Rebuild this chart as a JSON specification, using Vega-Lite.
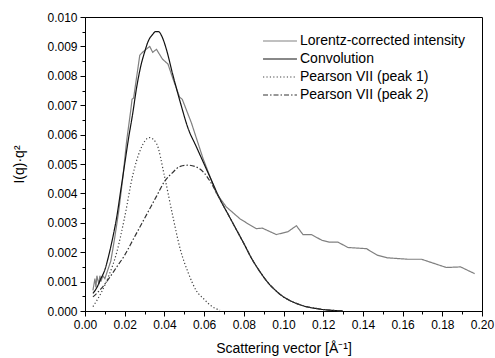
{
  "$schema": "https://vega.github.io/schema/vega-lite/v6.json",
  "width": 397,
  "height": 294,
  "autosize": {"type": "none"},
  "padding": {"left": 85, "top": 17, "right": 13, "bottom": 47},
  "background": "white",
  "config": {
    "view": {"stroke": "black", "strokeWidth": 1},
    "font": "Liberation Sans",
    "axis": {
      "grid": false,
      "domainColor": "black",
      "tickColor": "black",
      "labelColor": "black",
      "titleColor": "black",
      "labelFont": "Liberation Sans",
      "titleFont": "Liberation Sans",
      "labelFontSize": 12,
      "titleFontSize": 14,
      "titleFontWeight": "normal"
    },
    "legend": {
      "orient": "none", "legendX": 188, "legendY": 17, "title": null,
      "symbolType": "M-4,0H4", "symbolSize": 72, "symbolStrokeWidth": 1.2,
      "labelFontSize": 14, "labelFont": "Liberation Sans", "labelColor": "black",
      "rowPadding": 4, "labelOffset": 13, "padding": 0, "labelLimit": 400
    }
  },
  "datasets": {
    "d": [
      {"q": 0.004, "v": 0.0007, "s": "Lorentz-corrected intensity"},
      {"q": 0.005, "v": 0.0011, "s": "Lorentz-corrected intensity"},
      {"q": 0.0055, "v": 0.0008, "s": "Lorentz-corrected intensity"},
      {"q": 0.006, "v": 0.0012, "s": "Lorentz-corrected intensity"},
      {"q": 0.007, "v": 0.0009, "s": "Lorentz-corrected intensity"},
      {"q": 0.0075, "v": 0.0012, "s": "Lorentz-corrected intensity"},
      {"q": 0.008, "v": 0.0010, "s": "Lorentz-corrected intensity"},
      {"q": 0.009, "v": 0.0012, "s": "Lorentz-corrected intensity"},
      {"q": 0.010, "v": 0.0011, "s": "Lorentz-corrected intensity"},
      {"q": 0.011, "v": 0.0013, "s": "Lorentz-corrected intensity"},
      {"q": 0.013, "v": 0.0017, "s": "Lorentz-corrected intensity"},
      {"q": 0.015, "v": 0.0025, "s": "Lorentz-corrected intensity"},
      {"q": 0.017, "v": 0.0034, "s": "Lorentz-corrected intensity"},
      {"q": 0.019, "v": 0.0045, "s": "Lorentz-corrected intensity"},
      {"q": 0.021, "v": 0.0058, "s": "Lorentz-corrected intensity"},
      {"q": 0.023, "v": 0.0068, "s": "Lorentz-corrected intensity"},
      {"q": 0.0237, "v": 0.0072, "s": "Lorentz-corrected intensity"},
      {"q": 0.0245, "v": 0.00725, "s": "Lorentz-corrected intensity"},
      {"q": 0.0276, "v": 0.0087, "s": "Lorentz-corrected intensity"},
      {"q": 0.029, "v": 0.0088, "s": "Lorentz-corrected intensity"},
      {"q": 0.0326, "v": 0.0090, "s": "Lorentz-corrected intensity"},
      {"q": 0.0341, "v": 0.0088, "s": "Lorentz-corrected intensity"},
      {"q": 0.036, "v": 0.0089, "s": "Lorentz-corrected intensity"},
      {"q": 0.039, "v": 0.00857, "s": "Lorentz-corrected intensity"},
      {"q": 0.0418, "v": 0.0084, "s": "Lorentz-corrected intensity"},
      {"q": 0.0443, "v": 0.0079, "s": "Lorentz-corrected intensity"},
      {"q": 0.0477, "v": 0.00727, "s": "Lorentz-corrected intensity"},
      {"q": 0.049, "v": 0.0072, "s": "Lorentz-corrected intensity"},
      {"q": 0.0536, "v": 0.0064, "s": "Lorentz-corrected intensity"},
      {"q": 0.0594, "v": 0.0052, "s": "Lorentz-corrected intensity"},
      {"q": 0.0662, "v": 0.0040, "s": "Lorentz-corrected intensity"},
      {"q": 0.0712, "v": 0.00354, "s": "Lorentz-corrected intensity"},
      {"q": 0.078, "v": 0.00314, "s": "Lorentz-corrected intensity"},
      {"q": 0.0813, "v": 0.0030, "s": "Lorentz-corrected intensity"},
      {"q": 0.0863, "v": 0.0028, "s": "Lorentz-corrected intensity"},
      {"q": 0.0893, "v": 0.00282, "s": "Lorentz-corrected intensity"},
      {"q": 0.0964, "v": 0.0026, "s": "Lorentz-corrected intensity"},
      {"q": 0.1023, "v": 0.0027, "s": "Lorentz-corrected intensity"},
      {"q": 0.1065, "v": 0.0029, "s": "Lorentz-corrected intensity"},
      {"q": 0.1098, "v": 0.0026, "s": "Lorentz-corrected intensity"},
      {"q": 0.114, "v": 0.0026, "s": "Lorentz-corrected intensity"},
      {"q": 0.1195, "v": 0.0024, "s": "Lorentz-corrected intensity"},
      {"q": 0.1233, "v": 0.00234, "s": "Lorentz-corrected intensity"},
      {"q": 0.1275, "v": 0.00234, "s": "Lorentz-corrected intensity"},
      {"q": 0.1325, "v": 0.00216, "s": "Lorentz-corrected intensity"},
      {"q": 0.1418, "v": 0.00212, "s": "Lorentz-corrected intensity"},
      {"q": 0.1472, "v": 0.0019, "s": "Lorentz-corrected intensity"},
      {"q": 0.1522, "v": 0.00181, "s": "Lorentz-corrected intensity"},
      {"q": 0.1627, "v": 0.00176, "s": "Lorentz-corrected intensity"},
      {"q": 0.1695, "v": 0.00176, "s": "Lorentz-corrected intensity"},
      {"q": 0.1758, "v": 0.00162, "s": "Lorentz-corrected intensity"},
      {"q": 0.182, "v": 0.00148, "s": "Lorentz-corrected intensity"},
      {"q": 0.1892, "v": 0.0015, "s": "Lorentz-corrected intensity"},
      {"q": 0.1963, "v": 0.00127, "s": "Lorentz-corrected intensity"},

      {"q": 0.004, "v": 0.0006, "s": "Convolution"},
      {"q": 0.006, "v": 0.0008, "s": "Convolution"},
      {"q": 0.008, "v": 0.0011, "s": "Convolution"},
      {"q": 0.010, "v": 0.0014, "s": "Convolution"},
      {"q": 0.012, "v": 0.0019, "s": "Convolution"},
      {"q": 0.014, "v": 0.0025, "s": "Convolution"},
      {"q": 0.016, "v": 0.0032, "s": "Convolution"},
      {"q": 0.018, "v": 0.0041, "s": "Convolution"},
      {"q": 0.020, "v": 0.0050, "s": "Convolution"},
      {"q": 0.022, "v": 0.0059, "s": "Convolution"},
      {"q": 0.024, "v": 0.0067, "s": "Convolution"},
      {"q": 0.026, "v": 0.0076, "s": "Convolution"},
      {"q": 0.028, "v": 0.0083, "s": "Convolution"},
      {"q": 0.030, "v": 0.0088, "s": "Convolution"},
      {"q": 0.032, "v": 0.0092, "s": "Convolution"},
      {"q": 0.034, "v": 0.0094, "s": "Convolution"},
      {"q": 0.0355, "v": 0.0095, "s": "Convolution"},
      {"q": 0.037, "v": 0.0095, "s": "Convolution"},
      {"q": 0.039, "v": 0.0093, "s": "Convolution"},
      {"q": 0.041, "v": 0.0089, "s": "Convolution"},
      {"q": 0.044, "v": 0.0081, "s": "Convolution"},
      {"q": 0.048, "v": 0.0071, "s": "Convolution"},
      {"q": 0.052, "v": 0.0062, "s": "Convolution"},
      {"q": 0.056, "v": 0.0056, "s": "Convolution"},
      {"q": 0.060, "v": 0.0050, "s": "Convolution"},
      {"q": 0.064, "v": 0.0044, "s": "Convolution"},
      {"q": 0.068, "v": 0.0038, "s": "Convolution"},
      {"q": 0.072, "v": 0.0033, "s": "Convolution"},
      {"q": 0.076, "v": 0.0028, "s": "Convolution"},
      {"q": 0.080, "v": 0.0023, "s": "Convolution"},
      {"q": 0.084, "v": 0.00178, "s": "Convolution"},
      {"q": 0.088, "v": 0.00135, "s": "Convolution"},
      {"q": 0.092, "v": 0.00098, "s": "Convolution"},
      {"q": 0.096, "v": 0.0007, "s": "Convolution"},
      {"q": 0.100, "v": 0.00048, "s": "Convolution"},
      {"q": 0.104, "v": 0.00033, "s": "Convolution"},
      {"q": 0.108, "v": 0.00022, "s": "Convolution"},
      {"q": 0.112, "v": 0.00014, "s": "Convolution"},
      {"q": 0.116, "v": 0.00009, "s": "Convolution"},
      {"q": 0.120, "v": 0.00005, "s": "Convolution"},
      {"q": 0.125, "v": 0.00002, "s": "Convolution"},
      {"q": 0.130, "v": 0.0, "s": "Convolution"},

      {"q": 0.004, "v": 0.00015, "s": "Pearson VII (peak 1)"},
      {"q": 0.008, "v": 0.0006, "s": "Pearson VII (peak 1)"},
      {"q": 0.012, "v": 0.0012, "s": "Pearson VII (peak 1)"},
      {"q": 0.016, "v": 0.0020, "s": "Pearson VII (peak 1)"},
      {"q": 0.020, "v": 0.0032, "s": "Pearson VII (peak 1)"},
      {"q": 0.024, "v": 0.0046, "s": "Pearson VII (peak 1)"},
      {"q": 0.028, "v": 0.0055, "s": "Pearson VII (peak 1)"},
      {"q": 0.0325, "v": 0.0059, "s": "Pearson VII (peak 1)"},
      {"q": 0.036, "v": 0.0057, "s": "Pearson VII (peak 1)"},
      {"q": 0.040, "v": 0.0046, "s": "Pearson VII (peak 1)"},
      {"q": 0.044, "v": 0.0033, "s": "Pearson VII (peak 1)"},
      {"q": 0.048, "v": 0.0021, "s": "Pearson VII (peak 1)"},
      {"q": 0.052, "v": 0.0013, "s": "Pearson VII (peak 1)"},
      {"q": 0.056, "v": 0.0007, "s": "Pearson VII (peak 1)"},
      {"q": 0.060, "v": 0.0004, "s": "Pearson VII (peak 1)"},
      {"q": 0.064, "v": 0.00015, "s": "Pearson VII (peak 1)"},
      {"q": 0.068, "v": 0.00003, "s": "Pearson VII (peak 1)"},

      {"q": 0.004, "v": 0.00048, "s": "Pearson VII (peak 2)"},
      {"q": 0.008, "v": 0.00075, "s": "Pearson VII (peak 2)"},
      {"q": 0.012, "v": 0.0011, "s": "Pearson VII (peak 2)"},
      {"q": 0.016, "v": 0.0015, "s": "Pearson VII (peak 2)"},
      {"q": 0.020, "v": 0.0019, "s": "Pearson VII (peak 2)"},
      {"q": 0.024, "v": 0.0024, "s": "Pearson VII (peak 2)"},
      {"q": 0.028, "v": 0.0029, "s": "Pearson VII (peak 2)"},
      {"q": 0.032, "v": 0.0034, "s": "Pearson VII (peak 2)"},
      {"q": 0.036, "v": 0.0039, "s": "Pearson VII (peak 2)"},
      {"q": 0.040, "v": 0.0044, "s": "Pearson VII (peak 2)"},
      {"q": 0.044, "v": 0.0047, "s": "Pearson VII (peak 2)"},
      {"q": 0.048, "v": 0.00492, "s": "Pearson VII (peak 2)"},
      {"q": 0.052, "v": 0.00496, "s": "Pearson VII (peak 2)"},
      {"q": 0.056, "v": 0.0049, "s": "Pearson VII (peak 2)"},
      {"q": 0.060, "v": 0.0047, "s": "Pearson VII (peak 2)"},
      {"q": 0.064, "v": 0.0043, "s": "Pearson VII (peak 2)"},
      {"q": 0.068, "v": 0.0038, "s": "Pearson VII (peak 2)"},
      {"q": 0.072, "v": 0.0033, "s": "Pearson VII (peak 2)"},
      {"q": 0.076, "v": 0.0028, "s": "Pearson VII (peak 2)"},
      {"q": 0.080, "v": 0.0023, "s": "Pearson VII (peak 2)"},
      {"q": 0.084, "v": 0.00178, "s": "Pearson VII (peak 2)"},
      {"q": 0.088, "v": 0.00135, "s": "Pearson VII (peak 2)"},
      {"q": 0.092, "v": 0.00098, "s": "Pearson VII (peak 2)"},
      {"q": 0.096, "v": 0.0007, "s": "Pearson VII (peak 2)"},
      {"q": 0.100, "v": 0.00048, "s": "Pearson VII (peak 2)"},
      {"q": 0.104, "v": 0.00033, "s": "Pearson VII (peak 2)"},
      {"q": 0.108, "v": 0.00022, "s": "Pearson VII (peak 2)"},
      {"q": 0.112, "v": 0.00014, "s": "Pearson VII (peak 2)"},
      {"q": 0.116, "v": 0.00009, "s": "Pearson VII (peak 2)"},
      {"q": 0.120, "v": 0.00005, "s": "Pearson VII (peak 2)"},
      {"q": 0.125, "v": 0.00002, "s": "Pearson VII (peak 2)"},
      {"q": 0.130, "v": 0.0, "s": "Pearson VII (peak 2)"}
    ]
  },
  "data": {"name": "d"},
  "layer": [
    {
      "transform": [{"filter": "datum.s === 'Lorentz-corrected intensity'"}],
      "mark": {"type": "line", "strokeWidth": 1.2, "strokeCap": "butt"},
      "encoding": {
        "x": {
          "field": "q", "type": "quantitative",
          "scale": {"domain": [0, 0.2], "nice": false, "zero": false},
          "axis": {
            "title": "Scattering vector [Å⁻¹]",
            "values": [0, 0.02, 0.04, 0.06, 0.08, 0.1, 0.12, 0.14, 0.16, 0.18, 0.2],
            "format": ".2f", "tickSize": 5, "labelPadding": 3, "titlePadding": 11,
            "labelFlush": false, "labelOverlap": false
          }
        },
        "y": {
          "field": "v", "type": "quantitative",
          "scale": {"domain": [0, 0.01], "nice": false, "zero": false},
          "axis": {
            "title": "I(q)·q²",
            "values": [0, 0.001, 0.002, 0.003, 0.004, 0.005, 0.006, 0.007, 0.008, 0.009, 0.01],
            "format": ".3f", "tickSize": 5, "labelPadding": 3, "titlePadding": 20,
            "labelFlush": false, "labelOverlap": false
          }
        },
        "color": {
          "field": "s", "type": "nominal",
          "scale": {
            "domain": ["Lorentz-corrected intensity", "Convolution", "Pearson VII (peak 1)", "Pearson VII (peak 2)"],
            "range": ["#808080", "#111111", "#404040", "#333333"]
          }
        },
        "strokeDash": {
          "field": "s", "type": "nominal",
          "scale": {
            "domain": ["Lorentz-corrected intensity", "Convolution", "Pearson VII (peak 1)", "Pearson VII (peak 2)"],
            "range": [[1, 0], [1, 0], [1.2, 2.2], [5, 2, 1.5, 2]]
          }
        }
      }
    },
    {
      "transform": [{"filter": "datum.s !== 'Lorentz-corrected intensity'"}],
      "mark": {"type": "line", "strokeWidth": 1.2, "strokeCap": "butt", "interpolate": "monotone"},
      "encoding": {
        "x": {"field": "q", "type": "quantitative", "axis": null},
        "y": {"field": "v", "type": "quantitative", "axis": null},
        "color": {"field": "s", "type": "nominal"},
        "strokeDash": {"field": "s", "type": "nominal"}
      }
    },
    {
      "mark": {"type": "line", "opacity": 0},
      "encoding": {
        "x": {
          "field": "q", "type": "quantitative",
          "axis": {
            "orient": "bottom", "title": null, "labels": false, "domain": false, "tickSize": 3,
            "values": [0.01, 0.03, 0.05, 0.07, 0.09, 0.11, 0.13, 0.15, 0.17, 0.19]
          }
        },
        "y": {
          "field": "v", "type": "quantitative",
          "axis": {
            "orient": "left", "title": null, "labels": false, "domain": false, "tickSize": 3,
            "values": [0.0005, 0.0015, 0.0025, 0.0035, 0.0045, 0.0055, 0.0065, 0.0075, 0.0085, 0.0095]
          }
        }
      }
    }
  ],
  "resolve": {"axis": {"x": "independent", "y": "independent"}}
}
